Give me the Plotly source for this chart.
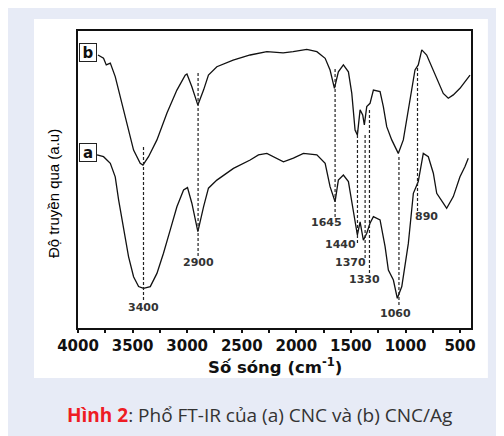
import plotly.graph_objects as go

# ---------------- data ----------------
wn_b = [3817, 3766, 3741, 3704, 3659, 3613, 3552, 3491, 3430, 3405, 3354, 3277, 3185, 3094,
        3018, 3002, 2957, 2902, 2850, 2805, 2728, 2579, 2423, 2270, 2121, 2029, 1904, 1812,
        1736, 1691, 1651, 1615, 1569, 1523, 1492, 1462, 1441, 1416, 1392, 1377, 1355, 1325,
        1294, 1233, 1203, 1172, 1126, 1096, 1066, 1020, 959, 913, 883, 851, 806, 745, 684,
        654, 608, 562, 501, 455, 409]
t_b = [91.0, 89.9, 87.7, 88.3, 83.8, 77.1, 68.3, 59.3, 54.9, 54.3, 57.1, 62.7, 71.7, 79.3,
       84.3, 84.7, 80.4, 74.3, 79.3, 84.3, 87.1, 89.3, 91.0, 92.1, 91.7, 92.1, 92.9, 92.1,
       89.9, 86.0, 79.9, 85.4, 87.7, 85.4, 78.2, 66.0, 64.3, 72.7, 71.0, 67.7, 73.8, 74.9,
       79.3, 78.8, 73.8, 67.1, 62.7, 60.4, 58.2, 62.7, 76.0, 86.0, 87.7, 92.7, 91.0, 86.0, 80.4,
       78.2, 76.6, 77.7, 79.9, 82.1, 84.3]

wn_a = [3826, 3766, 3704, 3659, 3628, 3583, 3537, 3491, 3445, 3400, 3338, 3277, 3217, 3155,
        3094, 3033, 2997, 2957, 2902, 2850, 2805, 2728, 2576, 2423, 2347, 2270, 2118, 2027,
        1935, 1812, 1736, 1691, 1645, 1615, 1569, 1523, 1477, 1441, 1416, 1386, 1355, 1325,
        1294, 1233, 1187, 1157, 1111, 1075, 1034, 974, 928, 883, 837, 791, 745, 714, 654,
        623, 562, 501, 455, 425]
t_a = [57.7, 57.1, 54.9, 50.4, 42.7, 32.7, 23.8, 17.1, 13.8, 13.2, 13.8, 18.2, 24.9, 32.7,
       40.4, 46.0, 46.8, 41.6, 32.1, 40.4, 46.6, 49.3, 53.2, 56.0, 57.7, 58.2, 55.4, 56.6,
       58.2, 57.7, 54.9, 47.1, 42.1, 49.3, 51.0, 48.8, 38.2, 31.0, 35.4, 29.3, 31.6, 34.9,
       37.1, 36.0, 27.1, 19.3, 16.0, 9.9, 13.8, 28.2, 44.9, 48.8, 58.2, 57.1, 51.6, 44.9, 41.6,
       39.9, 43.8, 50.4, 53.8, 56.6]

peak_wn = [3400, 2900, 1645, 1440, 1370, 1330, 1060, 890]
peak_labels = ["3400", "2900", "1645", "1440", "1370", "1330", "1060", "890"]
peak_top = [60.3, 85.0, 86.3, 66.0, 64.3, 72.7, 57.0, 86.7]
peak_bottom = [8.7, 23.7, 37.0, 28.3, 23.3, 18.3, 7.0, 38.3]
label_y = [7.0, 22.0, 35.3, 27.7, 22.0, 16.3, 4.7, 37.3]
label_dx = [0, 0, -9, -17, -15, -5, -3, 9]

x_ticks = [4000, 3500, 3000, 2500, 2000, 1500, 1000, 500]
x_tick_labels = ["4000", "3500", "3000", "2500", "2000", "1500", "1000", "500"]

series_names = ["a", "b"]
series_label_y = [58.5, 92.0]

x_title = "Số sóng (cm<sup>-1</sup>)"
y_title = "Độ truyền qua (a.u)"
caption_red = "Hình 2"
caption_rest = ": Phổ FT-IR của (a) CNC và (b) CNC/Ag"

# ---------------- figure ----------------
fig = go.Figure()

fig.add_trace(go.Scatter(x=wn_b, y=t_b, mode="lines", line=dict(color="#111111", width=1.3),
                         showlegend=False, hoverinfo="skip"))
fig.add_trace(go.Scatter(x=wn_a, y=t_a, mode="lines", line=dict(color="#111111", width=1.3),
                         showlegend=False, hoverinfo="skip"))

for w, top, bot in zip(peak_wn, peak_top, peak_bottom):
    fig.add_trace(go.Scatter(x=[w, w], y=[top, bot], mode="lines",
                             line=dict(color="#222222", width=1.2, dash="3px,2px"),
                             showlegend=False, hoverinfo="skip"))

annotations = []
for w, lab, ly, dx in zip(peak_wn, peak_labels, label_y, label_dx):
    annotations.append(dict(x=w, y=ly, xref="x", yref="y", text=lab, showarrow=False,
                            xanchor="center", yanchor="middle", xshift=dx,
                            font=dict(family="DejaVu Sans", size=11, color="#333333", weight=700)))

for name, ly in zip(series_names, series_label_y):
    annotations.append(dict(x=0.003, y=ly, xref="paper", yref="y", text=name, showarrow=False,
                            xanchor="left", yanchor="middle", width=16, height=17, borderpad=0,
                            bgcolor="white", bordercolor="#222222", borderwidth=1,
                            font=dict(family="DejaVu Sans", size=15, color="#111111", weight=700)))

# axis titles and caption
annotations.append(dict(x=0.5, y=-0.128, xref="paper", yref="paper", text=x_title,
                        showarrow=False, xanchor="center", yanchor="middle",
                        font=dict(family="DejaVu Sans", size=16.5, color="#111111", weight=700)))
annotations.append(dict(x=-0.0636, y=0.451, xref="paper", yref="paper", text=y_title,
                        showarrow=False, xanchor="center", yanchor="middle", textangle=-90,
                        font=dict(family="Liberation Sans", size=15, color="#000000")))
annotations.append(dict(x=0.463, y=-0.293, xref="paper", yref="paper",
                        text="<b><span style='color:#ee1c24'>" + caption_red + "</span></b>" + caption_rest,
                        showarrow=False, xanchor="center", yanchor="middle",
                        font=dict(family="Open Sans", size=19, color="#333333")))

shapes = [
    # white panel
    dict(type="rect", xref="paper", yref="paper", x0=-0.112, x1=1.043, y0=-0.168, y1=1.040,
         fillcolor="white", line=dict(width=0), layer="below"),
]

# page body has an 8px margin, so the figure is 8px smaller and offset by 8px
fig.update_layout(
    width=496, height=428,
    margin=dict(l=70, r=33, t=23, b=108, pad=0),
    paper_bgcolor="#e7ebf6",
    plot_bgcolor="white",
    annotations=annotations,
    shapes=shapes,
    showlegend=False,
)

fig.update_xaxes(range=[4000, 400], tickvals=x_ticks, ticktext=x_tick_labels,
                 showgrid=False, zeroline=False, showline=True, linecolor="#111111", linewidth=2,
                 mirror=True, ticks="outside", ticklen=3, tickwidth=1.5, tickcolor="#111111",
                 minor=dict(dtick=250, tick0=0, ticks="outside", ticklen=3, tickwidth=1.5,
                            tickcolor="#111111", showgrid=False),
                 tickfont=dict(family="DejaVu Sans", size=15, color="#111111", weight=700))
fig.update_yaxes(range=[0, 99], showticklabels=False, showgrid=False, zeroline=False,
                 showline=True, linecolor="#111111", linewidth=2, mirror=True, ticks="")

fig.write_html("out.html")
